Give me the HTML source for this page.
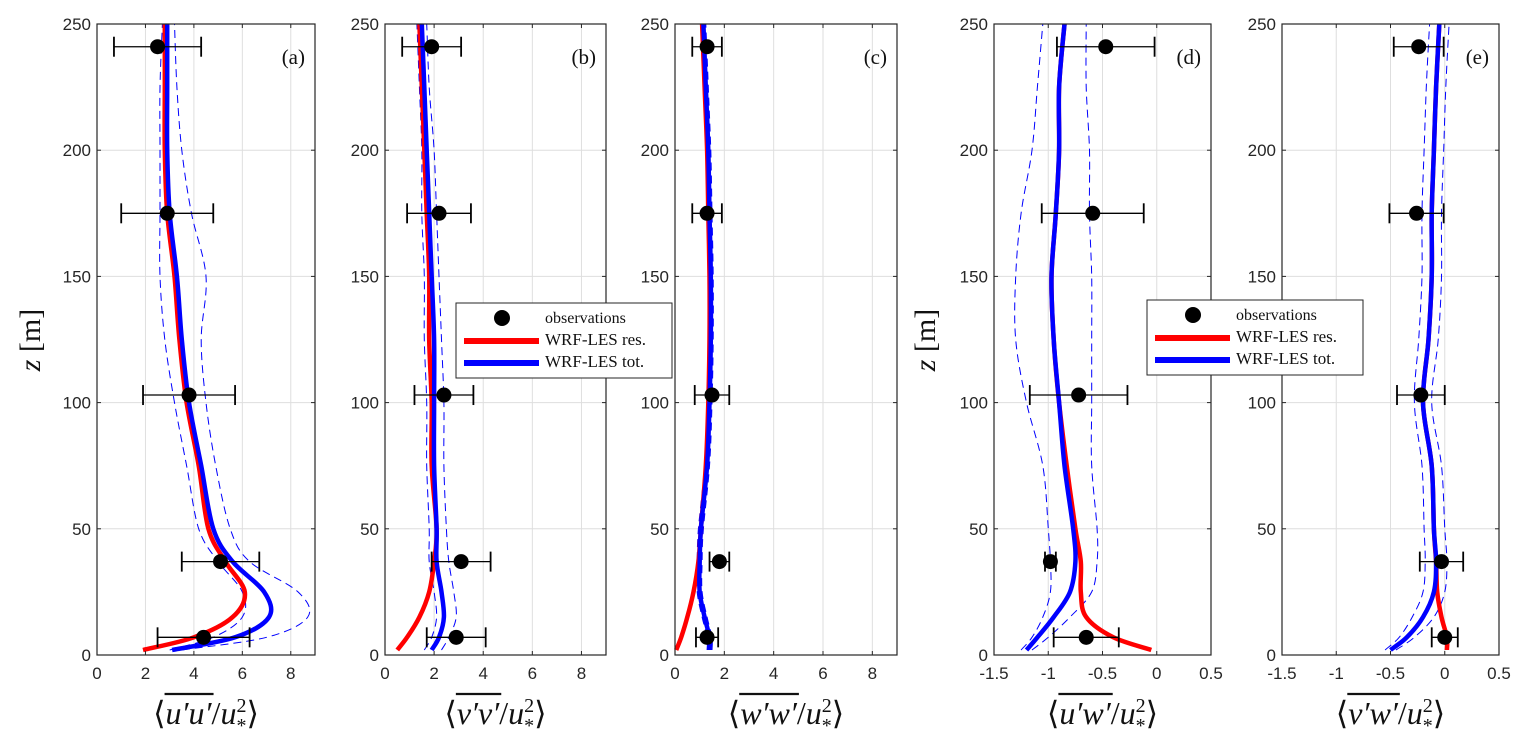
<!DOCTYPE html>
<html><head><meta charset="utf-8"><style>
body{margin:0;background:#fff;width:1532px;height:741px;overflow:hidden}
svg{display:block}
.tk{font-family:"Liberation Sans",sans-serif;font-size:17px;fill:#262626}
.sr{font-family:"Liberation Serif",serif;fill:#111}
</style></head><body>
<svg id="fig" width="1532" height="741" xmlns="http://www.w3.org/2000/svg"></svg>
<script>
const zModel=[2,7,15,25,37,50,75,100,125,150,175,200,225,250];
const zObs=[7,37,103,175,241];
const yTicks=[0,50,100,150,200,250];
const xTicksA=[0,2,4,6,8];
const xTicksD=[-1.5,-1,-0.5,0,0.5];
const xTickLabelsD=["-1.5","-1","-0.5","0","0.5"];
const aRes=[1.9,4.0,5.6,6.1,5.3,4.6,4.2,3.7,3.4,3.2,2.9,2.8,2.8,2.8];
const aTot=[3.1,5.7,7.1,6.9,5.6,4.8,4.3,3.8,3.5,3.3,3.0,2.9,2.9,2.9];
const aLo=[3.0,4.8,6.0,6.0,5.0,4.2,3.7,3.2,2.8,2.6,2.6,2.6,2.6,2.7];
const aHi=[3.5,7.0,8.7,8.3,6.3,5.5,4.9,4.5,4.3,4.5,3.9,3.5,3.3,3.2];
const aObs=[4.4,5.1,3.8,2.9,2.5];
const aErr=[1.9,1.6,1.9,1.9,1.8];
const bRes=[0.5,0.9,1.4,1.8,2.0,2.1,1.9,1.9,1.8,1.8,1.7,1.6,1.5,1.4];
const bTot=[1.9,2.2,2.4,2.3,2.1,2.1,2.0,2.0,2.0,1.9,1.8,1.7,1.6,1.5];
const bLo=[1.6,1.9,2.1,2.0,1.8,1.8,1.7,1.7,1.6,1.6,1.5,1.5,1.4,1.3];
const bHi=[2.3,2.6,2.9,2.8,2.6,2.5,2.4,2.4,2.3,2.2,2.1,2.0,1.8,1.7];
const bObs=[2.9,3.1,2.4,2.2,1.9];
const bErr=[1.2,1.2,1.2,1.3,1.2];
const cRes=[0.05,0.25,0.5,0.75,0.95,1.05,1.25,1.35,1.4,1.4,1.35,1.3,1.2,1.1];
const cTot=[1.4,1.4,1.2,1.0,1.0,1.05,1.3,1.4,1.45,1.45,1.4,1.35,1.25,1.15];
const cLo=[1.3,1.3,1.1,0.9,0.9,0.95,1.2,1.3,1.35,1.35,1.3,1.25,1.15,1.05];
const cHi=[1.5,1.5,1.3,1.1,1.1,1.15,1.4,1.5,1.55,1.55,1.5,1.45,1.35,1.25];
const cObs=[1.3,1.8,1.5,1.3,1.3];
const cErr=[0.45,0.4,0.7,0.6,0.6];
const dRes=[-0.05,-0.4,-0.65,-0.7,-0.7,-0.75,-0.83,-0.9,-0.95,-0.97,-0.93,-0.9,-0.9,-0.85];
const dTot=[-1.2,-1.1,-0.95,-0.8,-0.75,-0.77,-0.85,-0.9,-0.95,-0.97,-0.93,-0.9,-0.9,-0.85];
const dLo=[-1.25,-1.15,-1.05,-0.98,-0.98,-1.0,-1.05,-1.2,-1.3,-1.3,-1.25,-1.15,-1.1,-1.05];
const dHi=[-1.15,-1.0,-0.8,-0.6,-0.55,-0.55,-0.6,-0.6,-0.6,-0.6,-0.62,-0.62,-0.65,-0.65];
const dObs=[-0.65,-0.98,-0.72,-0.59,-0.47];
const dErr=[0.3,0.05,0.45,0.47,0.45];
const eRes=[0.02,0.02,-0.03,-0.07,-0.08,-0.1,-0.12,-0.2,-0.15,-0.12,-0.12,-0.1,-0.08,-0.05];
const eTot=[-0.5,-0.35,-0.2,-0.1,-0.08,-0.1,-0.12,-0.2,-0.15,-0.12,-0.12,-0.1,-0.08,-0.05];
const eLo=[-0.55,-0.42,-0.3,-0.2,-0.18,-0.19,-0.21,-0.28,-0.24,-0.21,-0.21,-0.19,-0.17,-0.14];
const eHi=[-0.45,-0.28,-0.1,0.0,0.02,0.0,-0.03,-0.12,-0.06,-0.03,-0.03,-0.01,0.01,0.04];
const eObs=[0,-0.03,-0.22,-0.26,-0.24];
const eErr=[0.12,0.2,0.22,0.25,0.23];

const NS="http://www.w3.org/2000/svg";
const svg=document.getElementById('fig');
function mk(tag,attrs,parent){const e=document.createElementNS(NS,tag);for(const k in attrs)e.setAttribute(k,attrs[k]);(parent||svg).appendChild(e);return e;}
const TOP=24,BOT=655;
const yS=z=>BOT-(z/250)*(BOT-TOP);
function smooth(P){
 let d='M'+P[0][0].toFixed(1)+','+P[0][1].toFixed(1);
 for(let i=0;i<P.length-1;i++){
  const p0=P[Math.max(i-1,0)],p1=P[i],p2=P[i+1],p3=P[Math.min(i+2,P.length-1)];
  const c1=[p1[0]+(p2[0]-p0[0])/6,p1[1]+(p2[1]-p0[1])/6];
  const c2=[p2[0]-(p3[0]-p1[0])/6,p2[1]-(p3[1]-p1[1])/6];
  d+=' C'+c1.map(v=>v.toFixed(1)).join(',')+' '+c2.map(v=>v.toFixed(1)).join(',')+' '+p2[0].toFixed(1)+','+p2[1].toFixed(1);
 }
 return d;
}
const panels=[
 {id:'a',L:97,R:315,min:0,max:9,ticks:xTicksA,labels:null,res:aRes,tot:aTot,lo:aLo,hi:aHi,obs:aObs,err:aErr,xl:"u′u′"},
 {id:'b',L:385,R:606,min:0,max:9,ticks:xTicksA,labels:null,res:bRes,tot:bTot,lo:bLo,hi:bHi,obs:bObs,err:bErr,xl:"v′v′"},
 {id:'c',L:675,R:897,min:0,max:9,ticks:xTicksA,labels:null,res:cRes,tot:cTot,lo:cLo,hi:cHi,obs:cObs,err:cErr,xl:"w′w′"},
 {id:'d',L:994,R:1211,min:-1.5,max:0.5,ticks:xTicksD,labels:xTickLabelsD,res:dRes,tot:dTot,lo:dLo,hi:dHi,obs:dObs,err:dErr,xl:"u′w′"},
 {id:'e',L:1282,R:1499,min:-1.5,max:0.5,ticks:xTicksD,labels:xTickLabelsD,res:eRes,tot:eTot,lo:eLo,hi:eHi,obs:eObs,err:eErr,xl:"v′w′"}
];
panels.forEach(p=>{
 const xS=v=>p.L+(v-p.min)/(p.max-p.min)*(p.R-p.L);
 const g=mk('g',{});
 
 
 p.ticks.forEach(t=>{const x=xS(t);mk('line',{x1:x,x2:x,y1:TOP,y2:BOT,stroke:'#dedede','stroke-width':1},g);});
 yTicks.forEach(t=>{const y=yS(t);mk('line',{x1:p.L,x2:p.R,y1:y,y2:y,stroke:'#dedede','stroke-width':1},g);});
 const pts=arr=>smooth(arr.map((v,i)=>[xS(v),yS(zModel[i])]));
 const lo=mk('path',{d:pts(p.lo),fill:'none',stroke:'#0000ff','stroke-width':1,'stroke-dasharray':'8,5'},g);
 
 const hi=mk('path',{d:pts(p.hi),fill:'none',stroke:'#0000ff','stroke-width':1,'stroke-dasharray':'8,5'},g);
 
 const r=mk('path',{d:pts(p.res),fill:'none',stroke:'#ff0000','stroke-width':4.5,'stroke-linejoin':'round'},g);
 
 const b=mk('path',{d:pts(p.tot),fill:'none',stroke:'#0000ff','stroke-width':4.5,'stroke-linejoin':'round'},g);
 
 p.obs.forEach((v,i)=>{
  const y=yS(zObs[i]),x1=xS(v-p.err[i]),x2=xS(v+p.err[i]);
  const eb=mk('g',{},g);
  
  mk('line',{x1:x1,x2:x2,y1:y,y2:y,stroke:'#000','stroke-width':1.3},eb);
  mk('line',{x1:x1,x2:x1,y1:y-10,y2:y+10,stroke:'#000','stroke-width':1.8},eb);
  mk('line',{x1:x2,x2:x2,y1:y-10,y2:y+10,stroke:'#000','stroke-width':1.8},eb);
  const c=mk('circle',{cx:xS(v),cy:y,r:7.5,fill:'#000'},g);
  
 });
 const box=mk('rect',{x:p.L,y:TOP,width:p.R-p.L,height:BOT-TOP,fill:'none',stroke:'#262626','stroke-width':1.2},g);
 
 p.ticks.forEach((t,i)=>{const x=xS(t);
  mk('line',{x1:x,x2:x,y1:BOT,y2:BOT-4,stroke:'#262626'},g);mk('line',{x1:x,x2:x,y1:TOP,y2:TOP+4,stroke:'#262626'},g);
  const tx=mk('text',{x:x,y:BOT+24,'text-anchor':'middle',class:'tk'},g);tx.textContent=p.labels?p.labels[i]:String(t);
  });
 yTicks.forEach(t=>{const y=yS(t);
  mk('line',{x1:p.L,x2:p.L+4,y1:y,y2:y,stroke:'#262626'},g);mk('line',{x1:p.R,x2:p.R-4,y1:y,y2:y,stroke:'#262626'},g);
  const tx=mk('text',{x:p.L-6,y:y+6,'text-anchor':'end',class:'tk'},g);tx.textContent=t;
  });
 const pl=mk('text',{x:p.R-10,y:TOP+40,'text-anchor':'end',class:'sr','font-size':21},g);pl.textContent='('+p.id+')';
 
 const cx=(p.L+p.R)/2;
 const xt=mk('text',{x:cx,y:724,'text-anchor':'middle',class:'sr','font-size':32,'font-style':'italic'},g);
 
 xt.innerHTML='<tspan font-style="normal">⟨</tspan><tspan class="ov">'+p.xl+'</tspan><tspan font-style="normal">/</tspan>u<tspan font-size="20" dy="-12" font-style="normal">2</tspan><tspan font-size="20" dx="-10" dy="20" font-style="normal">*</tspan><tspan dy="-8" font-style="normal">⟩</tspan>';
 const ov=xt.querySelector('.ov');
 let x1=cx-54,x2=cx+2;
 try{const n=ov.getNumberOfChars();const s=ov.getStartPositionOfChar(0).x;const e=ov.getEndPositionOfChar(n-1).x;if(e>s){x1=s-1;x2=e+2;}}catch(err){}
 mk('line',{x1:x1,x2:x2,y1:694,y2:694,stroke:'#111','stroke-width':2.2},g);
});
[[40,340],[935,340]].forEach(([x,y])=>{
 const t=mk('text',{x:x,y:y,'text-anchor':'middle',class:'sr','font-size':30,transform:`rotate(-90 ${x} ${y})`});
 
 t.innerHTML='<tspan font-style="italic">z</tspan> [m]';
});
[[456,303],[1147,300]].forEach(([x,y])=>{
 const g=mk('g',{});
 
 
 mk('rect',{x:x,y:y,width:216,height:75,fill:'#fff',stroke:'#262626','stroke-width':1},g);
 mk('circle',{cx:x+46,cy:y+15,r:8,fill:'#000'},g);
 mk('line',{x1:x+8,x2:x+83,y1:y+38,y2:y+38,stroke:'#ff0000','stroke-width':6},g);
 mk('line',{x1:x+8,x2:x+83,y1:y+60,y2:y+60,stroke:'#0000ff','stroke-width':6},g);
 const labs=['observations','WRF-LES res.','WRF-LES tot.'];
 labs.forEach((l,i)=>{const t=mk('text',{x:x+89,y:y+20+i*22,class:'sr','font-size':i==0?16:17},g);t.textContent=l;
  });
});
</script>
</body></html>
